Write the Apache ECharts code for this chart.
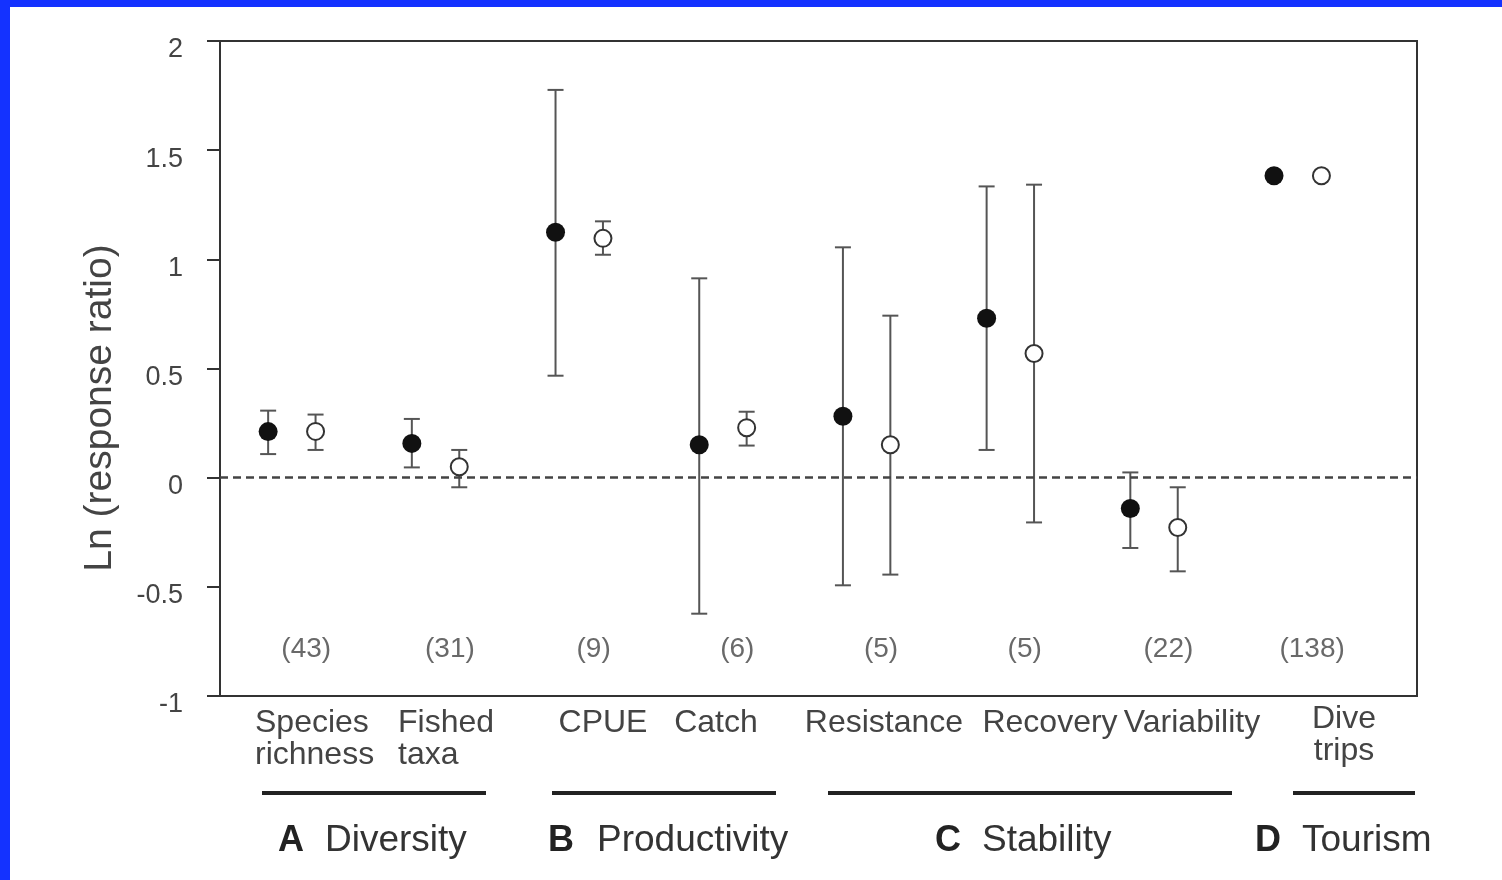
<!DOCTYPE html>
<html>
<head>
<meta charset="utf-8">
<script src="https://cdn.jsdelivr.net/npm/echarts@6/dist/echarts.min.js"></script>
<style>
  html, body { margin: 0; padding: 0; background: #fff; }
  #chart { position: absolute; left: 0; top: 0; width: 1502px; height: 880px; }
  .edge { position: absolute; background: #1432ff; z-index: 5; }
</style>
</head>
<body>
<div id="chart"></div>
<div class="edge" style="left:0;top:0;width:1502px;height:7px"></div>
<div class="edge" style="left:0;top:0;width:10px;height:880px"></div>
<script>
// data
const categories = ['Species\nrichness', 'Fished\ntaxa', 'CPUE', 'Catch', 'Resistance', 'Recovery', 'Variability', 'Dive\ntrips']
const studyCounts = [43, 31, 9, 6, 5, 5, 22, 138]

const filledMean = [0.211, 0.157, 1.124, 0.151, 0.281, 0.730, -0.141, 1.383]
const filledLow = [0.108, 0.047, 0.467, -0.623, -0.493, 0.127, -0.322, null]
const filledHigh = [0.307, 0.269, 1.776, 0.913, 1.055, 1.334, 0.024, null]

const openMean = [0.212, 0.050, 1.096, 0.229, 0.151, 0.569, -0.228, 1.383]
const openLow = [0.127, -0.044, 1.021, 0.147, -0.444, -0.205, -0.429, null]
const openHigh = [0.289, 0.127, 1.174, 0.302, 0.742, 1.342, -0.044, null]

const groups = ['A', 'B', 'C', 'D']
const groupNames = ['Diversity', 'Productivity', 'Stability', 'Tourism']
const yTitle = 'Ln (response ratio)'

// layout (pixels) for the text under the axis
const catLabelPos = [
  { x: 255, y: 707, align: 'left' },
  { x: 398, y: 707, align: 'left' },
  { x: 603, y: 707, align: 'center' },
  { x: 716, y: 707, align: 'center' },
  { x: 884, y: 707, align: 'center' },
  { x: 1050, y: 707, align: 'center' },
  { x: 1192, y: 707, align: 'center' },
  { x: 1344, y: 703, align: 'center' }
]
const groupLines = [[262, 486], [552, 776], [828, 1232], [1293, 1415]]
const groupLetterX = [278, 548, 935, 1255]
const groupNameX = [325, 597, 982, 1302]

const PAIR = 0.165
const FONT = '"Liberation Sans", Arial, Helvetica, sans-serif'
const TEXT = '#444'

const errData = (mean, low, high, dx) => mean
  .map((m, i) => (low[i] == null ? null : [i + dx, low[i], high[i]]))
  .filter(d => d)

const renderErr = (params, api) => {
  const x = api.value(0)
  const top = api.coord([x, api.value(2)])
  const bot = api.coord([x, api.value(1)])
  const hw = 8
  const st = { stroke: '#555', lineWidth: 2 }
  return {
    type: 'group',
    children: [
      { type: 'line', shape: { x1: top[0], y1: top[1], x2: bot[0], y2: bot[1] }, style: st },
      { type: 'line', shape: { x1: top[0] - hw, y1: top[1], x2: top[0] + hw, y2: top[1] }, style: st },
      { type: 'line', shape: { x1: bot[0] - hw, y1: bot[1], x2: bot[0] + hw, y2: bot[1] }, style: st }
    ]
  }
}

const graphics = [{
  type: 'text', x: 100, y: 408, rotation: Math.PI / 2,
  style: { text: yTitle, font: '39px ' + FONT, fill: TEXT, align: 'center', verticalAlign: 'middle' }
}]
categories.forEach((c, i) => {
  const p = catLabelPos[i]
  graphics.push({
    type: 'text', x: p.x, y: p.y,
    style: { text: c, font: '32px ' + FONT, fill: TEXT, align: p.align, verticalAlign: 'top', lineHeight: 32 }
  })
})
groupLines.forEach(g => {
  graphics.push({
    type: 'line', shape: { x1: g[0], y1: 793, x2: g[1], y2: 793 },
    style: { stroke: '#222', lineWidth: 4 }
  })
})
groups.forEach((g, i) => {
  graphics.push({
    type: 'text', x: groupLetterX[i], y: 841,
    style: { text: g, font: 'bold 36px ' + FONT, fill: '#222', align: 'left', verticalAlign: 'middle' }
  })
  graphics.push({
    type: 'text', x: groupNameX[i], y: 841,
    style: { text: groupNames[i], font: '37px ' + FONT, fill: '#333', align: 'left', verticalAlign: 'middle' }
  })
})

const chart = echarts.init(document.getElementById('chart'))
chart.setOption({
  animation: false,
  backgroundColor: '#fff',
  grid: {
    left: 220, top: 41, width: 1197, height: 655,
    show: true, borderColor: '#333', borderWidth: 2, backgroundColor: 'transparent'
  },
  xAxis: {
    type: 'value', min: -0.5, max: 7.83, show: false
  },
  yAxis: {
    type: 'value', min: -1, max: 2, interval: 0.5,
    axisLine: { show: true, onZero: false, lineStyle: { color: '#333', width: 2 } },
    axisTick: { show: true, inside: false, length: 13, lineStyle: { color: '#333', width: 2 } },
    axisLabel: {
      margin: 37, fontSize: 27, color: TEXT, fontFamily: FONT,
      verticalAlign: 'top', lineHeight: 18
    },
    splitLine: { show: false }
  },
  series: [
    {
      name: 'filled bars', type: 'custom', renderItem: renderErr,
      data: errData(filledMean, filledLow, filledHigh, -PAIR), z: 2
    },
    {
      name: 'open bars', type: 'custom', renderItem: renderErr,
      data: errData(openMean, openLow, openHigh, PAIR), z: 2
    },
    {
      name: 'filled', type: 'scatter', symbol: 'circle', symbolSize: 19, z: 5,
      itemStyle: { color: '#111', opacity: 1 },
      data: filledMean.map((v, i) => [i - PAIR, v]),
      markLine: {
        silent: true, symbol: 'none', label: { show: false },
        lineStyle: { color: '#444', width: 2.5, type: [8, 5] },
        data: [{ yAxis: 0 }]
      }
    },
    {
      name: 'open', type: 'scatter', symbol: 'circle', symbolSize: 17, z: 5,
      itemStyle: { color: '#fff', borderColor: '#333', borderWidth: 2, opacity: 1 },
      data: openMean.map((v, i) => [i + PAIR, v])
    },
    {
      name: 'counts', type: 'scatter', symbolSize: 1, z: 4,
      itemStyle: { color: 'rgba(0,0,0,0)' },
      data: studyCounts.map((n, i) => [i + 0.1, -0.785, n]),
      label: {
        show: true, position: 'inside', fontSize: 28, color: TEXT, fontFamily: FONT,
        formatter: p => '(' + p.value[2] + ')'
      }
    }
  ],
  graphic: graphics
})
</script>
</body>
</html>
